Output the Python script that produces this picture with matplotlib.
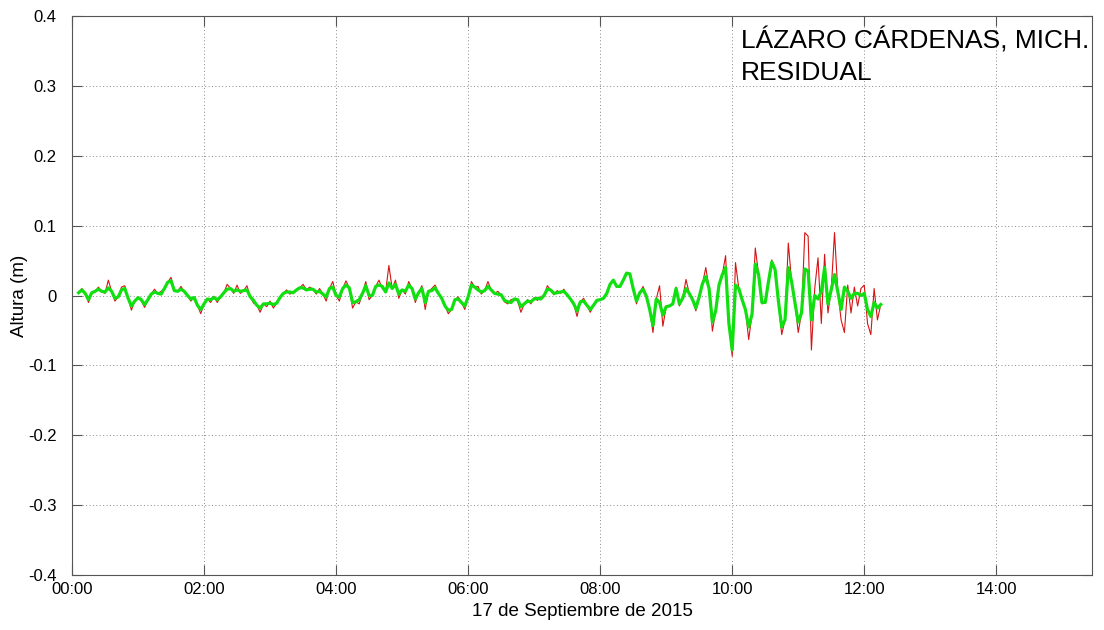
import matplotlib
matplotlib.use("Agg")
import matplotlib.pyplot as plt
import numpy as np

plt.rcParams["font.family"] = ["Liberation Sans", "DejaVu Sans"]

# residual, one sample every 3 minutes starting at 00:06
t_start = 6
t_step = 3

# smoothed residual (green), rows of 30 minutes
green = [
    0.004, 0.008, 0.003, -0.006, 0.004, 0.006, 0.009, 0.006, 0.005, 0.011,
    0.006, -0.004, -0.002, 0.008, 0.010, -0.004, -0.015, -0.008, -0.003, -0.006,
    -0.013, -0.006, 0.002, 0.005, 0.003, 0.002, 0.010, 0.019, 0.021, 0.007,
    0.006, 0.009, 0.006, 0.000, -0.005, -0.003, -0.014, -0.020, -0.012, -0.005,
    -0.006, -0.003, -0.006, -0.002, 0.004, 0.009, 0.010, 0.006, 0.008, 0.006,
    0.007, 0.008, -0.002, -0.007, -0.014, -0.018, -0.012, -0.012, -0.011, -0.013,
    -0.011, -0.003, 0.003, 0.005, 0.005, 0.004, 0.008, 0.011, 0.011, 0.008,
    0.009, 0.009, 0.005, 0.006, 0.002, -0.002, 0.010, 0.012, 0.000, -0.002,
    0.010, 0.015, 0.011, -0.010, -0.009, -0.006, 0.003, 0.014, 0.000, 0.000,
    0.013, 0.015, 0.013, 0.005, 0.018, 0.010, 0.016, 0.002, 0.008, 0.006,
    0.015, 0.010, -0.005, 0.004, 0.010, -0.010, 0.006, 0.007, 0.011, 0.003,
    -0.004, -0.015, -0.021, -0.020, -0.006, -0.005, -0.010, -0.015, -0.002, 0.015,
    0.012, 0.008, 0.005, 0.007, 0.013, 0.008, 0.003, 0.002, 0.001, -0.007,
    -0.009, -0.010, -0.005, -0.006, -0.016, -0.012, -0.008, -0.009, -0.005, -0.004,
    -0.005, 0.000, 0.009, 0.008, 0.003, 0.004, 0.005, 0.006, 0.001, -0.005,
    -0.012, -0.022, -0.009, -0.008, -0.014, -0.020, -0.014, -0.007, -0.006, -0.004,
    0.003, 0.016, 0.022, 0.013, 0.013, 0.022, 0.032, 0.031, 0.010, -0.008,
    0.004, 0.009, -0.001, -0.020, -0.043, -0.005, -0.010, -0.028, -0.016, -0.015,
    -0.012, 0.010, -0.012, -0.004, 0.010, 0.003, -0.006, -0.018, -0.002, 0.017,
    0.027, 0.010, -0.038, -0.022, 0.015, 0.030, 0.040, -0.040, -0.078, 0.015,
    0.010, -0.006, -0.020, -0.045, -0.027, 0.045, 0.030, -0.010, -0.010, 0.020,
    0.048, 0.037, -0.008, -0.045, -0.035, 0.040, 0.020, -0.010, -0.038, -0.025,
    0.038, 0.035, -0.035, 0.000, -0.005, 0.006, 0.040, -0.012, 0.008, 0.030,
    0.005, -0.020, 0.012, 0.006, -0.004, 0.003, 0.003, 0.000, 0.003, -0.020,
    -0.030, -0.010, -0.018, -0.013,
]

# raw residual (red), same times
red = [
    0.004, 0.010, 0.003, -0.010, 0.004, 0.006, 0.012, 0.006, 0.003, 0.022,
    0.006, -0.008, -0.002, 0.012, 0.014, -0.004, -0.021, -0.008, -0.003, -0.008,
    -0.017, -0.006, 0.002, 0.009, 0.003, 0.006, 0.010, 0.019, 0.026, 0.007,
    0.006, 0.013, 0.006, 0.000, -0.008, -0.003, -0.014, -0.026, -0.012, -0.005,
    -0.010, -0.001, -0.010, -0.002, 0.004, 0.016, 0.010, 0.003, 0.015, 0.003,
    0.007, 0.014, -0.002, -0.011, -0.014, -0.024, -0.012, -0.016, -0.008, -0.018,
    -0.011, -0.003, 0.003, 0.008, 0.002, 0.004, 0.008, 0.011, 0.016, 0.008,
    0.012, 0.009, 0.002, 0.010, 0.002, -0.008, 0.010, 0.020, 0.000, -0.008,
    0.010, 0.021, 0.011, -0.018, -0.009, -0.012, 0.003, 0.020, -0.006, 0.000,
    0.013, 0.022, 0.010, 0.005, 0.043, 0.010, 0.022, -0.004, 0.008, 0.002,
    0.020, 0.010, -0.010, 0.004, 0.014, -0.020, 0.006, 0.010, 0.015, 0.003,
    -0.004, -0.015, -0.026, -0.020, -0.006, -0.002, -0.010, -0.020, -0.002, 0.020,
    0.012, 0.013, 0.002, 0.007, 0.020, 0.008, 0.003, 0.006, 0.001, -0.009,
    -0.012, -0.006, -0.005, -0.008, -0.024, -0.012, -0.006, -0.012, -0.003, -0.007,
    -0.002, 0.000, 0.014, 0.008, 0.001, 0.007, 0.003, 0.009, 0.001, -0.005,
    -0.012, -0.030, -0.009, -0.004, -0.014, -0.024, -0.014, -0.007, -0.006, -0.004,
    0.003, 0.016, 0.022, 0.013, 0.013, 0.022, 0.033, 0.031, 0.010, -0.012,
    0.004, 0.013, -0.001, -0.020, -0.053, -0.005, 0.014, -0.044, -0.016, -0.015,
    -0.012, 0.012, -0.015, -0.004, 0.023, 0.003, -0.006, -0.022, -0.002, 0.017,
    0.040, 0.010, -0.051, -0.022, 0.015, 0.030, 0.057, -0.040, -0.087, 0.047,
    0.010, -0.006, -0.020, -0.063, -0.027, 0.068, 0.030, -0.012, -0.010, 0.020,
    0.051, 0.037, -0.008, -0.056, -0.035, 0.075, 0.020, -0.010, -0.053, -0.025,
    0.090, 0.085, -0.078, 0.010, 0.054, -0.040, 0.059, -0.025, 0.008, 0.090,
    0.005, -0.035, -0.053, 0.015, -0.025, 0.012, -0.015, 0.010, 0.015, -0.040,
    -0.056, 0.010, -0.035, -0.013,
]

hour_ticks = [0, 2, 4, 6, 8, 10, 12, 14]
hour_labels = ["00:00", "02:00", "04:00", "06:00", "08:00", "10:00", "12:00", "14:00"]
y_ticks = [-0.4, -0.3, -0.2, -0.1, 0, 0.1, 0.2, 0.3, 0.4]
y_labels = ["-0.4", "-0.3", "-0.2", "-0.1", "0", "0.1", "0.2", "0.3", "0.4"]

minutes = t_start + t_step * np.arange(len(green))
hours = minutes / 60.0

fig = plt.figure(figsize=(11.04, 6.3), dpi=100)
ax = fig.add_axes([72 / 1104, 55 / 630, 1020 / 1104, 559 / 630])

ax.plot(hours, red, color="#d41414", lw=0.8, zorder=3)
ax.plot(hours, green, color="#10e010", lw=2.3, zorder=4)

ax.set_xlim(0, 15.45)
ax.set_ylim(-0.4, 0.4)
ax.set_xticks(hour_ticks)
ax.set_xticklabels(hour_labels)
ax.set_yticks(y_ticks)
ax.set_yticklabels(y_labels)

ax.grid(True, color="#888888", linestyle=(0, (1, 2.5)), lw=0.7)
ax.tick_params(direction="in", length=7, width=0.8, color="#555555",
               top=True, right=True, labelsize=12)
ax.tick_params(axis="x", pad=5)
ax.tick_params(axis="y", pad=11)
for s in ax.spines.values():
    s.set_color("#555555")
    s.set_linewidth(0.8)

ax.set_xlabel("17 de Septiembre de 2015", fontsize=13.5, labelpad=4)
ax.set_ylabel("Altura (m)", fontsize=13.5, va="center")
ax.yaxis.set_label_coords(-0.051, 0.5)

ax.text(741, 630 - 48, "LÁZARO CÁRDENAS, MICH.", transform=None,
        fontsize=19, va="baseline", ha="left")
ax.text(741, 630 - 80, "RESIDUAL", transform=None,
        fontsize=19, va="baseline", ha="left")

fig.savefig("out.png", dpi=100)
